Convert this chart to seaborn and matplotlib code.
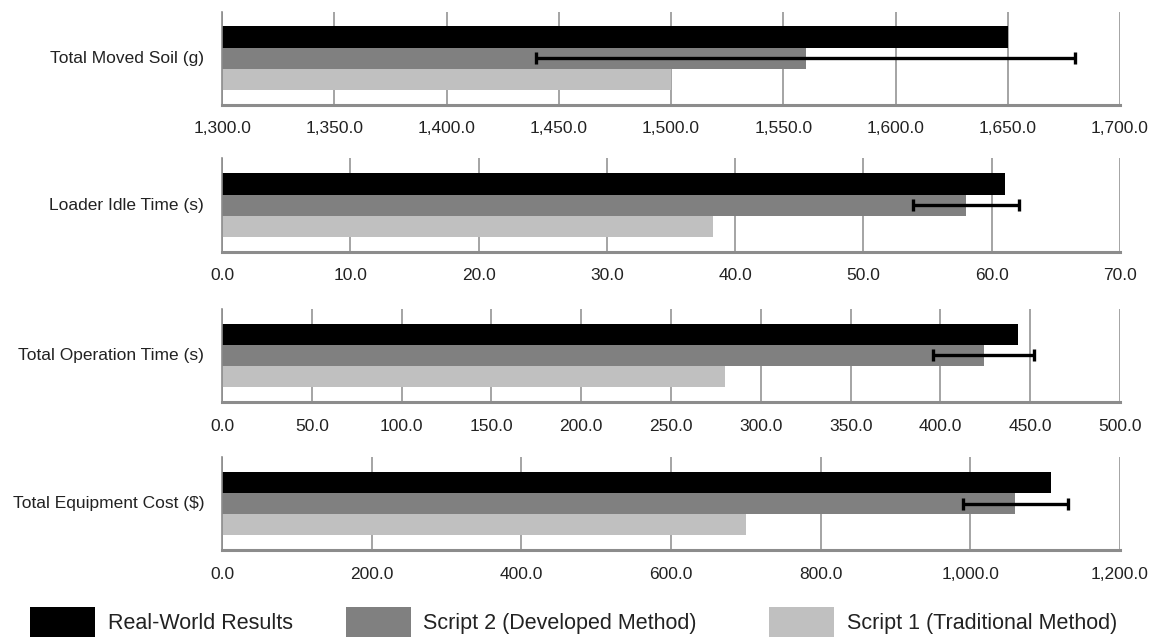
import matplotlib
matplotlib.use("Agg")
import matplotlib.pyplot as plt
import matplotlib.ticker as mticker
import pandas as pd
import seaborn as sns

sns.set_style("white")
plt.rcParams["font.family"] = ["Liberation Sans Narrow", "Liberation Sans", "DejaVu Sans"]

# --- data ---
metrics = ["Total Moved Soil (g)", "Loader Idle Time (s)",
           "Total Operation Time (s)", "Total Equipment Cost ($)"]
series = ["Real-World Results", "Script 2 (Developed Method)", "Script 1 (Traditional Method)"]
real_world = [1650.0, 61.0, 443.0, 1108.0]
script2 = [1560.0, 58.0, 424.0, 1060.0]
script1 = [1500.0, 38.3, 280.0, 700.0]
script2_err = [120.0, 4.1, 28.0, 70.0]
x_limits = [(1300, 1700), (0, 70), (0, 500), (0, 1200)]
x_steps = [50, 10, 50, 200]

colors = ["#000000", "#808080", "#c0c0c0"]

df = pd.DataFrame({
    "metric": metrics * 3,
    "series": [s for s in series for _ in metrics],
    "value": real_world + script2 + script1,
})

fig = plt.figure(figsize=(11.57, 6.39), dpi=100)
bottoms = [0.836, 0.606, 0.371, 0.139]
left, width, height = 0.192, 0.776, 0.146

for i, m in enumerate(metrics):
    ax = fig.add_axes([left, bottoms[i], width, height])
    sub = df[df["metric"] == m]
    sns.barplot(data=sub, x="value", y="metric", hue="series", hue_order=series,
                palette=colors, orient="h", width=0.68, ax=ax, legend=False,
                saturation=1, edgecolor="none")
    lo, hi = x_limits[i]
    ax.set_xlim(lo, hi)
    ax.set_ylim(0.5, -0.5)
    ax.xaxis.set_major_locator(mticker.MultipleLocator(x_steps[i]))
    ax.xaxis.set_major_formatter(mticker.StrMethodFormatter("{x:,.1f}"))
    ax.grid(axis="x", color="#8c8c8c", linewidth=1.1)
    ax.set_axisbelow(True)

    # error bar on the Script 2 bar
    bar = ax.patches[1]
    yc = bar.get_y() + bar.get_height() / 2
    ax.errorbar(script2[i], yc, xerr=script2_err[i], fmt="none", ecolor="black",
                elinewidth=2.4, capsize=4, capthick=2.4, zorder=5)

    ax.set_xlabel("")
    ax.set_ylabel("")
    ax.set_yticks([-0.5, 0.5])
    ax.set_yticklabels(["", ""])
    ax.text(-0.02, 0.5, m, transform=ax.transAxes, ha="right", va="center",
            fontsize=12.5, color="#222222")
    ax.tick_params(axis="y", length=4, width=1, color="#8c8c8c", direction="out")
    ax.tick_params(axis="x", length=0, pad=12, labelsize=12.5, labelcolor="#222222")
    for side in ["top", "right"]:
        ax.spines[side].set_visible(False)
    ax.spines["left"].set_color("#8c8c8c")
    ax.spines["left"].set_linewidth(1.2)
    ax.spines["bottom"].set_color("#8c8c8c")
    ax.spines["bottom"].set_linewidth(2.2)

# legend: one entry per column, placed like the reference
legend_x = [0.026, 0.299, 0.665]
for c, name, lx in zip(colors, series, legend_x):
    h = plt.Rectangle((0, 0), 1, 1, facecolor=c, edgecolor="none")
    fig.legend([h], [name], loc="center left", frameon=False,
               bbox_to_anchor=(lx, 0.027), borderaxespad=0, borderpad=0,
               fontsize=15.5, handlelength=3.0, handleheight=1.75, handletextpad=0.6,
               labelcolor="#222222")

fig.savefig("out.png", dpi=100)
